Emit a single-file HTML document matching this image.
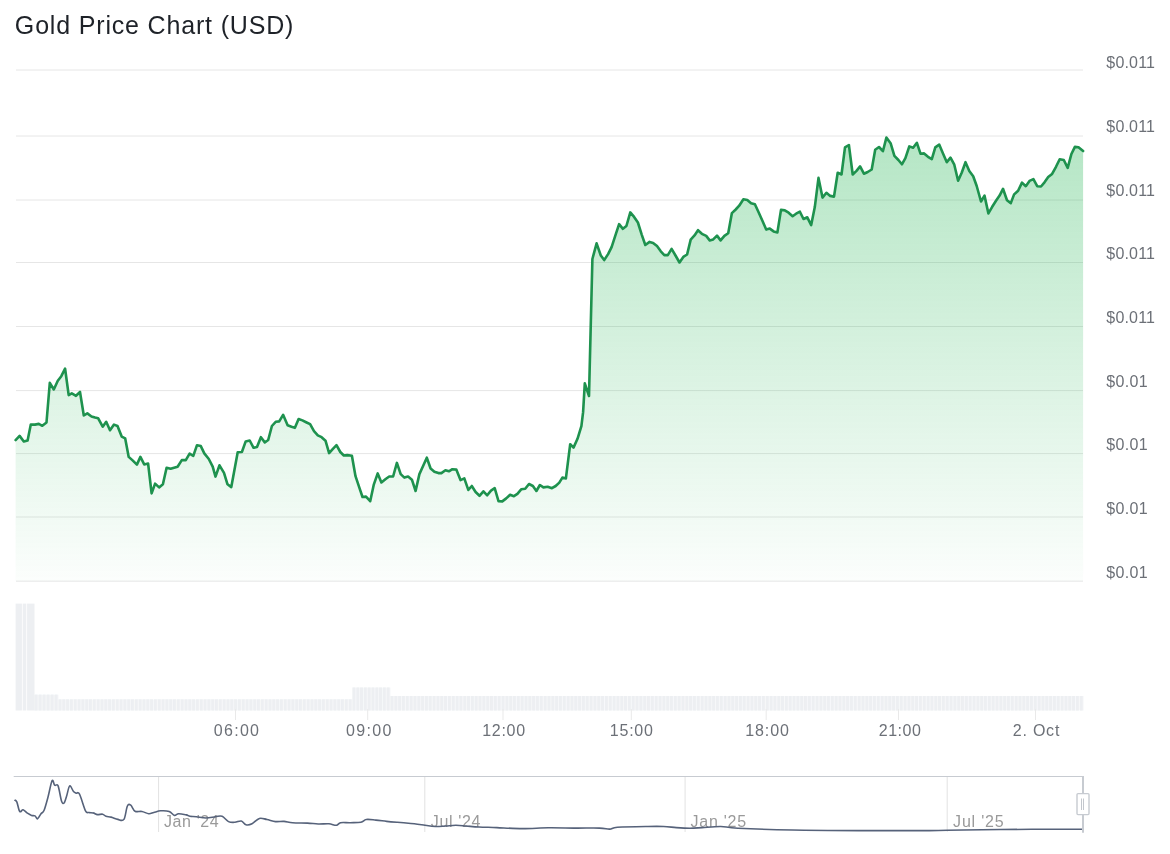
<!DOCTYPE html>
<html><head><meta charset="utf-8"><title>Gold Price Chart (USD)</title>
<style>
html,body{margin:0;padding:0;background:#fff;}
body{width:1170px;height:854px;overflow:hidden;font-family:"Liberation Sans",sans-serif;}
svg{display:block;will-change:transform;}
.title{font-size:25px;fill:#1e2228;}
.grid{stroke:#e6e6e6;stroke-width:1;}
.line{fill:none;stroke:#1e924e;stroke-width:2.6;stroke-linejoin:round;stroke-linecap:round;}
.yl{font-size:16px;fill:#6c7077;}
.xl{font-size:16px;fill:#6c7077;}
.tick{stroke:#e9e9e9;stroke-width:1;}
.ngrid{stroke:#e2e2e2;stroke-width:1;}
.nl{font-size:16px;fill:#9a9a9a;}
.nav{fill:none;stroke:#56627a;stroke-width:1.6;stroke-linejoin:round;}
.nout{fill:none;stroke:#c7cbd1;stroke-width:1;}
.handle{fill:#fff;stroke:#c7cbd1;stroke-width:1.4;}
</style></head>
<body><svg width="1170" height="854" viewBox="0 0 1170 854">
<defs><linearGradient id="g" gradientUnits="userSpaceOnUse" x1="0" y1="137" x2="0" y2="603"><stop offset="0" stop-color="#15b048" stop-opacity="0.318"/><stop offset="1" stop-color="#15b048" stop-opacity="0"/></linearGradient></defs>
<text x="14.86" y="34.00" class="title" textLength="278.56" lengthAdjust="spacing">Gold Price Chart (USD)</text>
<line x1="16" x2="1083" y1="70.00" y2="70.00" class="grid"/>
<line x1="16" x2="1083" y1="136.00" y2="136.00" class="grid"/>
<line x1="16" x2="1083" y1="200.00" y2="200.00" class="grid"/>
<line x1="16" x2="1083" y1="262.50" y2="262.50" class="grid"/>
<line x1="16" x2="1083" y1="326.50" y2="326.50" class="grid"/>
<line x1="16" x2="1083" y1="390.60" y2="390.60" class="grid"/>
<line x1="16" x2="1083" y1="453.60" y2="453.60" class="grid"/>
<line x1="16" x2="1083" y1="517.00" y2="517.00" class="grid"/>
<line x1="16" x2="1083" y1="581.20" y2="581.20" class="grid"/>
<path d="M15.6,440.1 L19.6,435.9 L23.8,441.5 L27.6,440.4 L30.8,424.6 L35,424.6 L38.8,423.9 L42.3,425.8 L46.5,422.5 L49.8,382.8 L53.8,389.5 L57.8,380.8 L61.3,376.2 L65.1,368.7 L68.7,395.1 L71.8,393.4 L76,395.8 L80,392 L83.8,415.5 L87.3,413.4 L91.5,416.5 L95,417.6 L98.2,418.3 L102.7,426.7 L106.2,421.8 L110,430.3 L114,424.6 L117.5,426 L121.7,436.6 L125.2,438.4 L128.7,456.9 L132.6,460.4 L136.9,464.6 L140.4,456.9 L144.2,464.4 L148.1,463.5 L151.6,493.4 L155.1,483.6 L159.1,487.4 L162.9,484.3 L166.6,467.7 L170.6,468.8 L174.1,467.7 L177.6,466.7 L181.8,460.1 L185.8,460.1 L189.6,453.7 L193.3,455.9 L197,445.2 L200.8,446.1 L204.3,453.4 L208.8,459 L212.7,466.7 L215.5,476.6 L219.5,465.3 L224,472.8 L227.5,484.3 L231.3,487.1 L237.7,452.3 L241.9,452 L245.7,441.4 L249.7,440.5 L253.6,447.8 L257,447.1 L260.9,437.2 L264.8,442.4 L268.2,440 L271.9,426 L275.7,421.8 L279.2,421.4 L283.1,414.8 L287.6,425.3 L291.5,426.7 L294.9,427.8 L298.6,419 L302.4,420.4 L306.6,422.5 L310.1,424.2 L314,431.2 L317.8,435.4 L321.6,437.2 L325.5,440.7 L329.1,453.1 L332.9,448.9 L336.5,445.2 L340.3,452 L343.8,455.5 L347.3,455.1 L351.9,455.8 L355.5,476.2 L359,486.7 L362.5,497 L366,496.6 L370.2,501.2 L373.7,484.9 L377.7,473.4 L381.4,482.5 L385.7,479 L389.2,476.5 L393.1,476.5 L396.9,462.9 L400.7,474.1 L404.4,477.6 L408.1,476.5 L411.9,479.7 L415.6,491 L419.4,474.1 L423.2,465.7 L426.8,457.7 L430.6,468.5 L434.4,471.7 L438.4,473.1 L441.4,473.1 L445.4,470.3 L448.9,471.3 L452.4,469.2 L456.3,469.6 L460.5,480.1 L464.3,478.4 L468.3,489.9 L471.8,486 L475.6,492 L479.5,495.8 L483.4,491.3 L487.2,495.3 L491,490.6 L494.7,488.2 L498.5,501.2 L502.3,501.4 L506.2,498.4 L510.1,494.8 L513.9,496.2 L517.4,493.9 L521.4,489.2 L525.2,488.8 L529,484 L532.9,486 L536.4,491 L539.9,485 L543.4,487.4 L547.7,486.8 L551.9,488.2 L555.7,486 L559.3,482.6 L562.4,477.6 L565.9,478.4 L570.2,444.2 L573.5,447.6 L577.5,438.8 L581.4,426.2 L583.1,412.2 L584.8,383.3 L589,396 L592.4,259 L596.6,243.3 L600.8,255.5 L604.2,260.1 L608.1,254.1 L611.6,247.1 L615.4,235.4 L619.1,224.2 L622.9,228.8 L626.4,226 L630.3,212.4 L634.1,216.9 L637.9,222.5 L641.8,234.8 L645.3,245 L649.6,241.9 L653.1,242.9 L657,246.1 L660.8,251.3 L664.3,255.1 L667.8,255.1 L671.6,248.9 L675.5,255.5 L679.5,262.5 L683.3,256.9 L687.1,254.5 L690.7,239.6 L694.5,235.4 L698,230.2 L701.9,233.8 L706.2,235.9 L709.7,240.4 L713.2,239.4 L717,235.6 L720.6,240.4 L724.4,235.9 L728.2,233.3 L731.9,213.1 L735.7,209.5 L739.2,205.7 L743.4,199.3 L747.3,200 L751.1,203.3 L754.9,204.3 L758.6,212.3 L762.4,220.7 L766.2,229.6 L769.8,228.6 L773.6,231.4 L777.4,232.4 L781,209.9 L784.8,210.3 L788.6,212.7 L792.6,216.2 L796.1,213.7 L799.9,211.7 L803.5,219 L807.3,217.3 L811.2,225.1 L814.8,207.1 L818.5,177.9 L822.5,197.6 L826.4,192.8 L830.2,195.9 L834,196.6 L837.7,172.7 L841.5,174.5 L845,147.4 L848.9,145 L852.7,174.5 L856.5,170.9 L860.1,166.4 L863.9,173.7 L867.7,172 L871.7,169.5 L875.2,149.8 L879,147 L882.9,151.2 L886.4,137.6 L890.6,143.2 L894.4,155.8 L898.4,160 L901.9,164.3 L905.4,158.2 L909.3,146.4 L913.1,147.8 L916.9,142.8 L920.5,153.7 L924.1,153.4 L928,156.8 L931.8,159.1 L935.3,147.4 L939.2,144.6 L943,153.4 L946.8,162.2 L950.5,157.7 L954.3,164.7 L958.1,180.7 L961.7,172.7 L965.5,162.2 L969.3,170.9 L973.2,176.2 L976.7,186 L981,201.5 L984.5,195.6 L988.4,213.4 L992.2,206.8 L996,200.8 L999.6,195.6 L1003,188.8 L1007,200.2 L1010.8,203.1 L1014.1,194.4 L1018.1,190.8 L1022,182.6 L1025.8,186.2 L1029.5,180.9 L1033.4,179.1 L1037.2,186.2 L1041,186.5 L1044.5,182.3 L1048.2,177.1 L1052.1,173.9 L1056,166.8 L1059.7,159.2 L1063.8,160 L1067.7,167.8 L1071.4,154 L1074.9,146.9 L1078.5,147.2 L1083.1,151 L1083.1,581.2 L15.6,581.2 Z" fill="url(#g)"/>
<path d="M15.6,440.1 L19.6,435.9 L23.8,441.5 L27.6,440.4 L30.8,424.6 L35,424.6 L38.8,423.9 L42.3,425.8 L46.5,422.5 L49.8,382.8 L53.8,389.5 L57.8,380.8 L61.3,376.2 L65.1,368.7 L68.7,395.1 L71.8,393.4 L76,395.8 L80,392 L83.8,415.5 L87.3,413.4 L91.5,416.5 L95,417.6 L98.2,418.3 L102.7,426.7 L106.2,421.8 L110,430.3 L114,424.6 L117.5,426 L121.7,436.6 L125.2,438.4 L128.7,456.9 L132.6,460.4 L136.9,464.6 L140.4,456.9 L144.2,464.4 L148.1,463.5 L151.6,493.4 L155.1,483.6 L159.1,487.4 L162.9,484.3 L166.6,467.7 L170.6,468.8 L174.1,467.7 L177.6,466.7 L181.8,460.1 L185.8,460.1 L189.6,453.7 L193.3,455.9 L197,445.2 L200.8,446.1 L204.3,453.4 L208.8,459 L212.7,466.7 L215.5,476.6 L219.5,465.3 L224,472.8 L227.5,484.3 L231.3,487.1 L237.7,452.3 L241.9,452 L245.7,441.4 L249.7,440.5 L253.6,447.8 L257,447.1 L260.9,437.2 L264.8,442.4 L268.2,440 L271.9,426 L275.7,421.8 L279.2,421.4 L283.1,414.8 L287.6,425.3 L291.5,426.7 L294.9,427.8 L298.6,419 L302.4,420.4 L306.6,422.5 L310.1,424.2 L314,431.2 L317.8,435.4 L321.6,437.2 L325.5,440.7 L329.1,453.1 L332.9,448.9 L336.5,445.2 L340.3,452 L343.8,455.5 L347.3,455.1 L351.9,455.8 L355.5,476.2 L359,486.7 L362.5,497 L366,496.6 L370.2,501.2 L373.7,484.9 L377.7,473.4 L381.4,482.5 L385.7,479 L389.2,476.5 L393.1,476.5 L396.9,462.9 L400.7,474.1 L404.4,477.6 L408.1,476.5 L411.9,479.7 L415.6,491 L419.4,474.1 L423.2,465.7 L426.8,457.7 L430.6,468.5 L434.4,471.7 L438.4,473.1 L441.4,473.1 L445.4,470.3 L448.9,471.3 L452.4,469.2 L456.3,469.6 L460.5,480.1 L464.3,478.4 L468.3,489.9 L471.8,486 L475.6,492 L479.5,495.8 L483.4,491.3 L487.2,495.3 L491,490.6 L494.7,488.2 L498.5,501.2 L502.3,501.4 L506.2,498.4 L510.1,494.8 L513.9,496.2 L517.4,493.9 L521.4,489.2 L525.2,488.8 L529,484 L532.9,486 L536.4,491 L539.9,485 L543.4,487.4 L547.7,486.8 L551.9,488.2 L555.7,486 L559.3,482.6 L562.4,477.6 L565.9,478.4 L570.2,444.2 L573.5,447.6 L577.5,438.8 L581.4,426.2 L583.1,412.2 L584.8,383.3 L589,396 L592.4,259 L596.6,243.3 L600.8,255.5 L604.2,260.1 L608.1,254.1 L611.6,247.1 L615.4,235.4 L619.1,224.2 L622.9,228.8 L626.4,226 L630.3,212.4 L634.1,216.9 L637.9,222.5 L641.8,234.8 L645.3,245 L649.6,241.9 L653.1,242.9 L657,246.1 L660.8,251.3 L664.3,255.1 L667.8,255.1 L671.6,248.9 L675.5,255.5 L679.5,262.5 L683.3,256.9 L687.1,254.5 L690.7,239.6 L694.5,235.4 L698,230.2 L701.9,233.8 L706.2,235.9 L709.7,240.4 L713.2,239.4 L717,235.6 L720.6,240.4 L724.4,235.9 L728.2,233.3 L731.9,213.1 L735.7,209.5 L739.2,205.7 L743.4,199.3 L747.3,200 L751.1,203.3 L754.9,204.3 L758.6,212.3 L762.4,220.7 L766.2,229.6 L769.8,228.6 L773.6,231.4 L777.4,232.4 L781,209.9 L784.8,210.3 L788.6,212.7 L792.6,216.2 L796.1,213.7 L799.9,211.7 L803.5,219 L807.3,217.3 L811.2,225.1 L814.8,207.1 L818.5,177.9 L822.5,197.6 L826.4,192.8 L830.2,195.9 L834,196.6 L837.7,172.7 L841.5,174.5 L845,147.4 L848.9,145 L852.7,174.5 L856.5,170.9 L860.1,166.4 L863.9,173.7 L867.7,172 L871.7,169.5 L875.2,149.8 L879,147 L882.9,151.2 L886.4,137.6 L890.6,143.2 L894.4,155.8 L898.4,160 L901.9,164.3 L905.4,158.2 L909.3,146.4 L913.1,147.8 L916.9,142.8 L920.5,153.7 L924.1,153.4 L928,156.8 L931.8,159.1 L935.3,147.4 L939.2,144.6 L943,153.4 L946.8,162.2 L950.5,157.7 L954.3,164.7 L958.1,180.7 L961.7,172.7 L965.5,162.2 L969.3,170.9 L973.2,176.2 L976.7,186 L981,201.5 L984.5,195.6 L988.4,213.4 L992.2,206.8 L996,200.8 L999.6,195.6 L1003,188.8 L1007,200.2 L1010.8,203.1 L1014.1,194.4 L1018.1,190.8 L1022,182.6 L1025.8,186.2 L1029.5,180.9 L1033.4,179.1 L1037.2,186.2 L1041,186.5 L1044.5,182.3 L1048.2,177.1 L1052.1,173.9 L1056,166.8 L1059.7,159.2 L1063.8,160 L1067.7,167.8 L1071.4,154 L1074.9,146.9 L1078.5,147.2 L1083.1,151" class="line"/>
<text x="1106.37" y="68.30" class="yl" textLength="48.55" lengthAdjust="spacing">$0.011</text>
<text x="1106.37" y="131.95" class="yl" textLength="48.55" lengthAdjust="spacing">$0.011</text>
<text x="1106.37" y="195.60" class="yl" textLength="48.55" lengthAdjust="spacing">$0.011</text>
<text x="1106.37" y="259.25" class="yl" textLength="48.55" lengthAdjust="spacing">$0.011</text>
<text x="1106.37" y="322.90" class="yl" textLength="48.55" lengthAdjust="spacing">$0.011</text>
<text x="1106.37" y="386.55" class="yl" textLength="41.17" lengthAdjust="spacing">$0.01</text>
<text x="1106.37" y="450.20" class="yl" textLength="41.17" lengthAdjust="spacing">$0.01</text>
<text x="1106.37" y="513.85" class="yl" textLength="41.17" lengthAdjust="spacing">$0.01</text>
<text x="1106.37" y="577.50" class="yl" textLength="41.17" lengthAdjust="spacing">$0.01</text>
<g fill="#f6f7f9"><rect x="34.50" y="694.6" width="4.00" height="15.9"/><rect x="38.50" y="694.6" width="4.00" height="15.9"/><rect x="42.50" y="694.6" width="4.00" height="15.9"/><rect x="46.50" y="694.6" width="4.00" height="15.9"/><rect x="50.50" y="694.6" width="4.00" height="15.9"/><rect x="54.50" y="694.6" width="4.00" height="15.9"/><rect x="58.50" y="699.3" width="3.82" height="11.2"/><rect x="62.32" y="699.3" width="3.82" height="11.2"/><rect x="66.14" y="699.3" width="3.82" height="11.2"/><rect x="69.95" y="699.3" width="3.82" height="11.2"/><rect x="73.77" y="699.3" width="3.82" height="11.2"/><rect x="77.59" y="699.3" width="3.82" height="11.2"/><rect x="81.41" y="699.3" width="3.82" height="11.2"/><rect x="85.23" y="699.3" width="3.82" height="11.2"/><rect x="89.05" y="699.3" width="3.82" height="11.2"/><rect x="92.86" y="699.3" width="3.82" height="11.2"/><rect x="96.68" y="699.3" width="3.82" height="11.2"/><rect x="100.50" y="699.3" width="3.82" height="11.2"/><rect x="104.32" y="699.3" width="3.82" height="11.2"/><rect x="108.14" y="699.3" width="3.82" height="11.2"/><rect x="111.95" y="699.3" width="3.82" height="11.2"/><rect x="115.77" y="699.3" width="3.82" height="11.2"/><rect x="119.59" y="699.3" width="3.82" height="11.2"/><rect x="123.41" y="699.3" width="3.82" height="11.2"/><rect x="127.23" y="699.3" width="3.82" height="11.2"/><rect x="131.05" y="699.3" width="3.82" height="11.2"/><rect x="134.86" y="699.3" width="3.82" height="11.2"/><rect x="138.68" y="699.3" width="3.82" height="11.2"/><rect x="142.50" y="699.3" width="3.82" height="11.2"/><rect x="146.32" y="699.3" width="3.82" height="11.2"/><rect x="150.14" y="699.3" width="3.82" height="11.2"/><rect x="153.95" y="699.3" width="3.82" height="11.2"/><rect x="157.77" y="699.3" width="3.82" height="11.2"/><rect x="161.59" y="699.3" width="3.82" height="11.2"/><rect x="165.41" y="699.3" width="3.82" height="11.2"/><rect x="169.23" y="699.3" width="3.82" height="11.2"/><rect x="173.05" y="699.3" width="3.82" height="11.2"/><rect x="176.86" y="699.3" width="3.82" height="11.2"/><rect x="180.68" y="699.3" width="3.82" height="11.2"/><rect x="184.50" y="699.3" width="3.82" height="11.2"/><rect x="188.32" y="699.3" width="3.82" height="11.2"/><rect x="192.14" y="699.3" width="3.82" height="11.2"/><rect x="195.95" y="699.3" width="3.82" height="11.2"/><rect x="199.77" y="699.3" width="3.82" height="11.2"/><rect x="203.59" y="699.3" width="3.82" height="11.2"/><rect x="207.41" y="699.3" width="3.82" height="11.2"/><rect x="211.23" y="699.3" width="3.82" height="11.2"/><rect x="215.05" y="699.3" width="3.82" height="11.2"/><rect x="218.86" y="699.3" width="3.82" height="11.2"/><rect x="222.68" y="699.3" width="3.82" height="11.2"/><rect x="226.50" y="699.3" width="3.82" height="11.2"/><rect x="230.32" y="699.3" width="3.82" height="11.2"/><rect x="234.14" y="699.3" width="3.82" height="11.2"/><rect x="237.95" y="699.3" width="3.82" height="11.2"/><rect x="241.77" y="699.3" width="3.82" height="11.2"/><rect x="245.59" y="699.3" width="3.82" height="11.2"/><rect x="249.41" y="699.3" width="3.82" height="11.2"/><rect x="253.23" y="699.3" width="3.82" height="11.2"/><rect x="257.05" y="699.3" width="3.82" height="11.2"/><rect x="260.86" y="699.3" width="3.82" height="11.2"/><rect x="264.68" y="699.3" width="3.82" height="11.2"/><rect x="268.50" y="699.3" width="3.82" height="11.2"/><rect x="272.32" y="699.3" width="3.82" height="11.2"/><rect x="276.14" y="699.3" width="3.82" height="11.2"/><rect x="279.95" y="699.3" width="3.82" height="11.2"/><rect x="283.77" y="699.3" width="3.82" height="11.2"/><rect x="287.59" y="699.3" width="3.82" height="11.2"/><rect x="291.41" y="699.3" width="3.82" height="11.2"/><rect x="295.23" y="699.3" width="3.82" height="11.2"/><rect x="299.05" y="699.3" width="3.82" height="11.2"/><rect x="302.86" y="699.3" width="3.82" height="11.2"/><rect x="306.68" y="699.3" width="3.82" height="11.2"/><rect x="310.50" y="699.3" width="3.82" height="11.2"/><rect x="314.32" y="699.3" width="3.82" height="11.2"/><rect x="318.14" y="699.3" width="3.82" height="11.2"/><rect x="321.95" y="699.3" width="3.82" height="11.2"/><rect x="325.77" y="699.3" width="3.82" height="11.2"/><rect x="329.59" y="699.3" width="3.82" height="11.2"/><rect x="333.41" y="699.3" width="3.82" height="11.2"/><rect x="337.23" y="699.3" width="3.82" height="11.2"/><rect x="341.05" y="699.3" width="3.82" height="11.2"/><rect x="344.86" y="699.3" width="3.82" height="11.2"/><rect x="348.68" y="699.3" width="3.82" height="11.2"/><rect x="352.50" y="687.5" width="3.80" height="23.0"/><rect x="356.30" y="687.5" width="3.80" height="23.0"/><rect x="360.10" y="687.5" width="3.80" height="23.0"/><rect x="363.90" y="687.5" width="3.80" height="23.0"/><rect x="367.70" y="687.5" width="3.80" height="23.0"/><rect x="371.50" y="687.5" width="3.80" height="23.0"/><rect x="375.30" y="687.5" width="3.80" height="23.0"/><rect x="379.10" y="687.5" width="3.80" height="23.0"/><rect x="382.90" y="687.5" width="3.80" height="23.0"/><rect x="386.70" y="687.5" width="3.80" height="23.0"/><rect x="390.50" y="696.0" width="3.83" height="14.5"/><rect x="394.33" y="696.0" width="3.83" height="14.5"/><rect x="398.16" y="696.0" width="3.83" height="14.5"/><rect x="401.99" y="696.0" width="3.83" height="14.5"/><rect x="405.82" y="696.0" width="3.83" height="14.5"/><rect x="409.65" y="696.0" width="3.83" height="14.5"/><rect x="413.48" y="696.0" width="3.83" height="14.5"/><rect x="417.30" y="696.0" width="3.83" height="14.5"/><rect x="421.13" y="696.0" width="3.83" height="14.5"/><rect x="424.96" y="696.0" width="3.83" height="14.5"/><rect x="428.79" y="696.0" width="3.83" height="14.5"/><rect x="432.62" y="696.0" width="3.83" height="14.5"/><rect x="436.45" y="696.0" width="3.83" height="14.5"/><rect x="440.28" y="696.0" width="3.83" height="14.5"/><rect x="444.11" y="696.0" width="3.83" height="14.5"/><rect x="447.94" y="696.0" width="3.83" height="14.5"/><rect x="451.77" y="696.0" width="3.83" height="14.5"/><rect x="455.60" y="696.0" width="3.83" height="14.5"/><rect x="459.43" y="696.0" width="3.83" height="14.5"/><rect x="463.26" y="696.0" width="3.83" height="14.5"/><rect x="467.09" y="696.0" width="3.83" height="14.5"/><rect x="470.91" y="696.0" width="3.83" height="14.5"/><rect x="474.74" y="696.0" width="3.83" height="14.5"/><rect x="478.57" y="696.0" width="3.83" height="14.5"/><rect x="482.40" y="696.0" width="3.83" height="14.5"/><rect x="486.23" y="696.0" width="3.83" height="14.5"/><rect x="490.06" y="696.0" width="3.83" height="14.5"/><rect x="493.89" y="696.0" width="3.83" height="14.5"/><rect x="497.72" y="696.0" width="3.83" height="14.5"/><rect x="501.55" y="696.0" width="3.83" height="14.5"/><rect x="505.38" y="696.0" width="3.83" height="14.5"/><rect x="509.21" y="696.0" width="3.83" height="14.5"/><rect x="513.04" y="696.0" width="3.83" height="14.5"/><rect x="516.87" y="696.0" width="3.83" height="14.5"/><rect x="520.70" y="696.0" width="3.83" height="14.5"/><rect x="524.52" y="696.0" width="3.83" height="14.5"/><rect x="528.35" y="696.0" width="3.83" height="14.5"/><rect x="532.18" y="696.0" width="3.83" height="14.5"/><rect x="536.01" y="696.0" width="3.83" height="14.5"/><rect x="539.84" y="696.0" width="3.83" height="14.5"/><rect x="543.67" y="696.0" width="3.83" height="14.5"/><rect x="547.50" y="696.0" width="3.83" height="14.5"/><rect x="551.33" y="696.0" width="3.83" height="14.5"/><rect x="555.16" y="696.0" width="3.83" height="14.5"/><rect x="558.99" y="696.0" width="3.83" height="14.5"/><rect x="562.82" y="696.0" width="3.83" height="14.5"/><rect x="566.65" y="696.0" width="3.83" height="14.5"/><rect x="570.48" y="696.0" width="3.83" height="14.5"/><rect x="574.31" y="696.0" width="3.83" height="14.5"/><rect x="578.13" y="696.0" width="3.83" height="14.5"/><rect x="581.96" y="696.0" width="3.83" height="14.5"/><rect x="585.79" y="696.0" width="3.83" height="14.5"/><rect x="589.62" y="696.0" width="3.83" height="14.5"/><rect x="593.45" y="696.0" width="3.83" height="14.5"/><rect x="597.28" y="696.0" width="3.83" height="14.5"/><rect x="601.11" y="696.0" width="3.83" height="14.5"/><rect x="604.94" y="696.0" width="3.83" height="14.5"/><rect x="608.77" y="696.0" width="3.83" height="14.5"/><rect x="612.60" y="696.0" width="3.83" height="14.5"/><rect x="616.43" y="696.0" width="3.83" height="14.5"/><rect x="620.26" y="696.0" width="3.83" height="14.5"/><rect x="624.09" y="696.0" width="3.83" height="14.5"/><rect x="627.92" y="696.0" width="3.83" height="14.5"/><rect x="631.74" y="696.0" width="3.83" height="14.5"/><rect x="635.57" y="696.0" width="3.83" height="14.5"/><rect x="639.40" y="696.0" width="3.83" height="14.5"/><rect x="643.23" y="696.0" width="3.83" height="14.5"/><rect x="647.06" y="696.0" width="3.83" height="14.5"/><rect x="650.89" y="696.0" width="3.83" height="14.5"/><rect x="654.72" y="696.0" width="3.83" height="14.5"/><rect x="658.55" y="696.0" width="3.83" height="14.5"/><rect x="662.38" y="696.0" width="3.83" height="14.5"/><rect x="666.21" y="696.0" width="3.83" height="14.5"/><rect x="670.04" y="696.0" width="3.83" height="14.5"/><rect x="673.87" y="696.0" width="3.83" height="14.5"/><rect x="677.70" y="696.0" width="3.83" height="14.5"/><rect x="681.53" y="696.0" width="3.83" height="14.5"/><rect x="685.35" y="696.0" width="3.83" height="14.5"/><rect x="689.18" y="696.0" width="3.83" height="14.5"/><rect x="693.01" y="696.0" width="3.83" height="14.5"/><rect x="696.84" y="696.0" width="3.83" height="14.5"/><rect x="700.67" y="696.0" width="3.83" height="14.5"/><rect x="704.50" y="696.0" width="3.83" height="14.5"/><rect x="708.33" y="696.0" width="3.83" height="14.5"/><rect x="712.16" y="696.0" width="3.83" height="14.5"/><rect x="715.99" y="696.0" width="3.83" height="14.5"/><rect x="719.82" y="696.0" width="3.83" height="14.5"/><rect x="723.65" y="696.0" width="3.83" height="14.5"/><rect x="727.48" y="696.0" width="3.83" height="14.5"/><rect x="731.31" y="696.0" width="3.83" height="14.5"/><rect x="735.14" y="696.0" width="3.83" height="14.5"/><rect x="738.96" y="696.0" width="3.83" height="14.5"/><rect x="742.79" y="696.0" width="3.83" height="14.5"/><rect x="746.62" y="696.0" width="3.83" height="14.5"/><rect x="750.45" y="696.0" width="3.83" height="14.5"/><rect x="754.28" y="696.0" width="3.83" height="14.5"/><rect x="758.11" y="696.0" width="3.83" height="14.5"/><rect x="761.94" y="696.0" width="3.83" height="14.5"/><rect x="765.77" y="696.0" width="3.83" height="14.5"/><rect x="769.60" y="696.0" width="3.83" height="14.5"/><rect x="773.43" y="696.0" width="3.83" height="14.5"/><rect x="777.26" y="696.0" width="3.83" height="14.5"/><rect x="781.09" y="696.0" width="3.83" height="14.5"/><rect x="784.92" y="696.0" width="3.83" height="14.5"/><rect x="788.75" y="696.0" width="3.83" height="14.5"/><rect x="792.57" y="696.0" width="3.83" height="14.5"/><rect x="796.40" y="696.0" width="3.83" height="14.5"/><rect x="800.23" y="696.0" width="3.83" height="14.5"/><rect x="804.06" y="696.0" width="3.83" height="14.5"/><rect x="807.89" y="696.0" width="3.83" height="14.5"/><rect x="811.72" y="696.0" width="3.83" height="14.5"/><rect x="815.55" y="696.0" width="3.83" height="14.5"/><rect x="819.38" y="696.0" width="3.83" height="14.5"/><rect x="823.21" y="696.0" width="3.83" height="14.5"/><rect x="827.04" y="696.0" width="3.83" height="14.5"/><rect x="830.87" y="696.0" width="3.83" height="14.5"/><rect x="834.70" y="696.0" width="3.83" height="14.5"/><rect x="838.53" y="696.0" width="3.83" height="14.5"/><rect x="842.36" y="696.0" width="3.83" height="14.5"/><rect x="846.18" y="696.0" width="3.83" height="14.5"/><rect x="850.01" y="696.0" width="3.83" height="14.5"/><rect x="853.84" y="696.0" width="3.83" height="14.5"/><rect x="857.67" y="696.0" width="3.83" height="14.5"/><rect x="861.50" y="696.0" width="3.83" height="14.5"/><rect x="865.33" y="696.0" width="3.83" height="14.5"/><rect x="869.16" y="696.0" width="3.83" height="14.5"/><rect x="872.99" y="696.0" width="3.83" height="14.5"/><rect x="876.82" y="696.0" width="3.83" height="14.5"/><rect x="880.65" y="696.0" width="3.83" height="14.5"/><rect x="884.48" y="696.0" width="3.83" height="14.5"/><rect x="888.31" y="696.0" width="3.83" height="14.5"/><rect x="892.14" y="696.0" width="3.83" height="14.5"/><rect x="895.97" y="696.0" width="3.83" height="14.5"/><rect x="899.79" y="696.0" width="3.83" height="14.5"/><rect x="903.62" y="696.0" width="3.83" height="14.5"/><rect x="907.45" y="696.0" width="3.83" height="14.5"/><rect x="911.28" y="696.0" width="3.83" height="14.5"/><rect x="915.11" y="696.0" width="3.83" height="14.5"/><rect x="918.94" y="696.0" width="3.83" height="14.5"/><rect x="922.77" y="696.0" width="3.83" height="14.5"/><rect x="926.60" y="696.0" width="3.83" height="14.5"/><rect x="930.43" y="696.0" width="3.83" height="14.5"/><rect x="934.26" y="696.0" width="3.83" height="14.5"/><rect x="938.09" y="696.0" width="3.83" height="14.5"/><rect x="941.92" y="696.0" width="3.83" height="14.5"/><rect x="945.75" y="696.0" width="3.83" height="14.5"/><rect x="949.58" y="696.0" width="3.83" height="14.5"/><rect x="953.40" y="696.0" width="3.83" height="14.5"/><rect x="957.23" y="696.0" width="3.83" height="14.5"/><rect x="961.06" y="696.0" width="3.83" height="14.5"/><rect x="964.89" y="696.0" width="3.83" height="14.5"/><rect x="968.72" y="696.0" width="3.83" height="14.5"/><rect x="972.55" y="696.0" width="3.83" height="14.5"/><rect x="976.38" y="696.0" width="3.83" height="14.5"/><rect x="980.21" y="696.0" width="3.83" height="14.5"/><rect x="984.04" y="696.0" width="3.83" height="14.5"/><rect x="987.87" y="696.0" width="3.83" height="14.5"/><rect x="991.70" y="696.0" width="3.83" height="14.5"/><rect x="995.53" y="696.0" width="3.83" height="14.5"/><rect x="999.36" y="696.0" width="3.83" height="14.5"/><rect x="1003.19" y="696.0" width="3.83" height="14.5"/><rect x="1007.01" y="696.0" width="3.83" height="14.5"/><rect x="1010.84" y="696.0" width="3.83" height="14.5"/><rect x="1014.67" y="696.0" width="3.83" height="14.5"/><rect x="1018.50" y="696.0" width="3.83" height="14.5"/><rect x="1022.33" y="696.0" width="3.83" height="14.5"/><rect x="1026.16" y="696.0" width="3.83" height="14.5"/><rect x="1029.99" y="696.0" width="3.83" height="14.5"/><rect x="1033.82" y="696.0" width="3.83" height="14.5"/><rect x="1037.65" y="696.0" width="3.83" height="14.5"/><rect x="1041.48" y="696.0" width="3.83" height="14.5"/><rect x="1045.31" y="696.0" width="3.83" height="14.5"/><rect x="1049.14" y="696.0" width="3.83" height="14.5"/><rect x="1052.97" y="696.0" width="3.83" height="14.5"/><rect x="1056.80" y="696.0" width="3.83" height="14.5"/><rect x="1060.62" y="696.0" width="3.83" height="14.5"/><rect x="1064.45" y="696.0" width="3.83" height="14.5"/><rect x="1068.28" y="696.0" width="3.83" height="14.5"/><rect x="1072.11" y="696.0" width="3.83" height="14.5"/><rect x="1075.94" y="696.0" width="3.83" height="14.5"/><rect x="1079.77" y="696.0" width="3.83" height="14.5"/></g>
<g fill="#edeff2"><rect x="15.60" y="603.6" width="6.30" height="106.9"/><rect x="22.70" y="603.6" width="3.60" height="106.9"/><rect x="27.10" y="603.6" width="7.40" height="106.9"/><rect x="34.50" y="694.6" width="3.05" height="15.9"/><rect x="38.50" y="694.6" width="3.05" height="15.9"/><rect x="42.50" y="694.6" width="3.05" height="15.9"/><rect x="46.50" y="694.6" width="3.05" height="15.9"/><rect x="50.50" y="694.6" width="3.05" height="15.9"/><rect x="54.50" y="694.6" width="3.05" height="15.9"/><rect x="58.50" y="699.3" width="2.87" height="11.2"/><rect x="62.32" y="699.3" width="2.87" height="11.2"/><rect x="66.14" y="699.3" width="2.87" height="11.2"/><rect x="69.95" y="699.3" width="2.87" height="11.2"/><rect x="73.77" y="699.3" width="2.87" height="11.2"/><rect x="77.59" y="699.3" width="2.87" height="11.2"/><rect x="81.41" y="699.3" width="2.87" height="11.2"/><rect x="85.23" y="699.3" width="2.87" height="11.2"/><rect x="89.05" y="699.3" width="2.87" height="11.2"/><rect x="92.86" y="699.3" width="2.87" height="11.2"/><rect x="96.68" y="699.3" width="2.87" height="11.2"/><rect x="100.50" y="699.3" width="2.87" height="11.2"/><rect x="104.32" y="699.3" width="2.87" height="11.2"/><rect x="108.14" y="699.3" width="2.87" height="11.2"/><rect x="111.95" y="699.3" width="2.87" height="11.2"/><rect x="115.77" y="699.3" width="2.87" height="11.2"/><rect x="119.59" y="699.3" width="2.87" height="11.2"/><rect x="123.41" y="699.3" width="2.87" height="11.2"/><rect x="127.23" y="699.3" width="2.87" height="11.2"/><rect x="131.05" y="699.3" width="2.87" height="11.2"/><rect x="134.86" y="699.3" width="2.87" height="11.2"/><rect x="138.68" y="699.3" width="2.87" height="11.2"/><rect x="142.50" y="699.3" width="2.87" height="11.2"/><rect x="146.32" y="699.3" width="2.87" height="11.2"/><rect x="150.14" y="699.3" width="2.87" height="11.2"/><rect x="153.95" y="699.3" width="2.87" height="11.2"/><rect x="157.77" y="699.3" width="2.87" height="11.2"/><rect x="161.59" y="699.3" width="2.87" height="11.2"/><rect x="165.41" y="699.3" width="2.87" height="11.2"/><rect x="169.23" y="699.3" width="2.87" height="11.2"/><rect x="173.05" y="699.3" width="2.87" height="11.2"/><rect x="176.86" y="699.3" width="2.87" height="11.2"/><rect x="180.68" y="699.3" width="2.87" height="11.2"/><rect x="184.50" y="699.3" width="2.87" height="11.2"/><rect x="188.32" y="699.3" width="2.87" height="11.2"/><rect x="192.14" y="699.3" width="2.87" height="11.2"/><rect x="195.95" y="699.3" width="2.87" height="11.2"/><rect x="199.77" y="699.3" width="2.87" height="11.2"/><rect x="203.59" y="699.3" width="2.87" height="11.2"/><rect x="207.41" y="699.3" width="2.87" height="11.2"/><rect x="211.23" y="699.3" width="2.87" height="11.2"/><rect x="215.05" y="699.3" width="2.87" height="11.2"/><rect x="218.86" y="699.3" width="2.87" height="11.2"/><rect x="222.68" y="699.3" width="2.87" height="11.2"/><rect x="226.50" y="699.3" width="2.87" height="11.2"/><rect x="230.32" y="699.3" width="2.87" height="11.2"/><rect x="234.14" y="699.3" width="2.87" height="11.2"/><rect x="237.95" y="699.3" width="2.87" height="11.2"/><rect x="241.77" y="699.3" width="2.87" height="11.2"/><rect x="245.59" y="699.3" width="2.87" height="11.2"/><rect x="249.41" y="699.3" width="2.87" height="11.2"/><rect x="253.23" y="699.3" width="2.87" height="11.2"/><rect x="257.05" y="699.3" width="2.87" height="11.2"/><rect x="260.86" y="699.3" width="2.87" height="11.2"/><rect x="264.68" y="699.3" width="2.87" height="11.2"/><rect x="268.50" y="699.3" width="2.87" height="11.2"/><rect x="272.32" y="699.3" width="2.87" height="11.2"/><rect x="276.14" y="699.3" width="2.87" height="11.2"/><rect x="279.95" y="699.3" width="2.87" height="11.2"/><rect x="283.77" y="699.3" width="2.87" height="11.2"/><rect x="287.59" y="699.3" width="2.87" height="11.2"/><rect x="291.41" y="699.3" width="2.87" height="11.2"/><rect x="295.23" y="699.3" width="2.87" height="11.2"/><rect x="299.05" y="699.3" width="2.87" height="11.2"/><rect x="302.86" y="699.3" width="2.87" height="11.2"/><rect x="306.68" y="699.3" width="2.87" height="11.2"/><rect x="310.50" y="699.3" width="2.87" height="11.2"/><rect x="314.32" y="699.3" width="2.87" height="11.2"/><rect x="318.14" y="699.3" width="2.87" height="11.2"/><rect x="321.95" y="699.3" width="2.87" height="11.2"/><rect x="325.77" y="699.3" width="2.87" height="11.2"/><rect x="329.59" y="699.3" width="2.87" height="11.2"/><rect x="333.41" y="699.3" width="2.87" height="11.2"/><rect x="337.23" y="699.3" width="2.87" height="11.2"/><rect x="341.05" y="699.3" width="2.87" height="11.2"/><rect x="344.86" y="699.3" width="2.87" height="11.2"/><rect x="348.68" y="699.3" width="2.87" height="11.2"/><rect x="352.50" y="687.5" width="2.85" height="23.0"/><rect x="356.30" y="687.5" width="2.85" height="23.0"/><rect x="360.10" y="687.5" width="2.85" height="23.0"/><rect x="363.90" y="687.5" width="2.85" height="23.0"/><rect x="367.70" y="687.5" width="2.85" height="23.0"/><rect x="371.50" y="687.5" width="2.85" height="23.0"/><rect x="375.30" y="687.5" width="2.85" height="23.0"/><rect x="379.10" y="687.5" width="2.85" height="23.0"/><rect x="382.90" y="687.5" width="2.85" height="23.0"/><rect x="386.70" y="687.5" width="2.85" height="23.0"/><rect x="390.50" y="696.0" width="2.88" height="14.5"/><rect x="394.33" y="696.0" width="2.88" height="14.5"/><rect x="398.16" y="696.0" width="2.88" height="14.5"/><rect x="401.99" y="696.0" width="2.88" height="14.5"/><rect x="405.82" y="696.0" width="2.88" height="14.5"/><rect x="409.65" y="696.0" width="2.88" height="14.5"/><rect x="413.48" y="696.0" width="2.88" height="14.5"/><rect x="417.30" y="696.0" width="2.88" height="14.5"/><rect x="421.13" y="696.0" width="2.88" height="14.5"/><rect x="424.96" y="696.0" width="2.88" height="14.5"/><rect x="428.79" y="696.0" width="2.88" height="14.5"/><rect x="432.62" y="696.0" width="2.88" height="14.5"/><rect x="436.45" y="696.0" width="2.88" height="14.5"/><rect x="440.28" y="696.0" width="2.88" height="14.5"/><rect x="444.11" y="696.0" width="2.88" height="14.5"/><rect x="447.94" y="696.0" width="2.88" height="14.5"/><rect x="451.77" y="696.0" width="2.88" height="14.5"/><rect x="455.60" y="696.0" width="2.88" height="14.5"/><rect x="459.43" y="696.0" width="2.88" height="14.5"/><rect x="463.26" y="696.0" width="2.88" height="14.5"/><rect x="467.09" y="696.0" width="2.88" height="14.5"/><rect x="470.91" y="696.0" width="2.88" height="14.5"/><rect x="474.74" y="696.0" width="2.88" height="14.5"/><rect x="478.57" y="696.0" width="2.88" height="14.5"/><rect x="482.40" y="696.0" width="2.88" height="14.5"/><rect x="486.23" y="696.0" width="2.88" height="14.5"/><rect x="490.06" y="696.0" width="2.88" height="14.5"/><rect x="493.89" y="696.0" width="2.88" height="14.5"/><rect x="497.72" y="696.0" width="2.88" height="14.5"/><rect x="501.55" y="696.0" width="2.88" height="14.5"/><rect x="505.38" y="696.0" width="2.88" height="14.5"/><rect x="509.21" y="696.0" width="2.88" height="14.5"/><rect x="513.04" y="696.0" width="2.88" height="14.5"/><rect x="516.87" y="696.0" width="2.88" height="14.5"/><rect x="520.70" y="696.0" width="2.88" height="14.5"/><rect x="524.52" y="696.0" width="2.88" height="14.5"/><rect x="528.35" y="696.0" width="2.88" height="14.5"/><rect x="532.18" y="696.0" width="2.88" height="14.5"/><rect x="536.01" y="696.0" width="2.88" height="14.5"/><rect x="539.84" y="696.0" width="2.88" height="14.5"/><rect x="543.67" y="696.0" width="2.88" height="14.5"/><rect x="547.50" y="696.0" width="2.88" height="14.5"/><rect x="551.33" y="696.0" width="2.88" height="14.5"/><rect x="555.16" y="696.0" width="2.88" height="14.5"/><rect x="558.99" y="696.0" width="2.88" height="14.5"/><rect x="562.82" y="696.0" width="2.88" height="14.5"/><rect x="566.65" y="696.0" width="2.88" height="14.5"/><rect x="570.48" y="696.0" width="2.88" height="14.5"/><rect x="574.31" y="696.0" width="2.88" height="14.5"/><rect x="578.13" y="696.0" width="2.88" height="14.5"/><rect x="581.96" y="696.0" width="2.88" height="14.5"/><rect x="585.79" y="696.0" width="2.88" height="14.5"/><rect x="589.62" y="696.0" width="2.88" height="14.5"/><rect x="593.45" y="696.0" width="2.88" height="14.5"/><rect x="597.28" y="696.0" width="2.88" height="14.5"/><rect x="601.11" y="696.0" width="2.88" height="14.5"/><rect x="604.94" y="696.0" width="2.88" height="14.5"/><rect x="608.77" y="696.0" width="2.88" height="14.5"/><rect x="612.60" y="696.0" width="2.88" height="14.5"/><rect x="616.43" y="696.0" width="2.88" height="14.5"/><rect x="620.26" y="696.0" width="2.88" height="14.5"/><rect x="624.09" y="696.0" width="2.88" height="14.5"/><rect x="627.92" y="696.0" width="2.88" height="14.5"/><rect x="631.74" y="696.0" width="2.88" height="14.5"/><rect x="635.57" y="696.0" width="2.88" height="14.5"/><rect x="639.40" y="696.0" width="2.88" height="14.5"/><rect x="643.23" y="696.0" width="2.88" height="14.5"/><rect x="647.06" y="696.0" width="2.88" height="14.5"/><rect x="650.89" y="696.0" width="2.88" height="14.5"/><rect x="654.72" y="696.0" width="2.88" height="14.5"/><rect x="658.55" y="696.0" width="2.88" height="14.5"/><rect x="662.38" y="696.0" width="2.88" height="14.5"/><rect x="666.21" y="696.0" width="2.88" height="14.5"/><rect x="670.04" y="696.0" width="2.88" height="14.5"/><rect x="673.87" y="696.0" width="2.88" height="14.5"/><rect x="677.70" y="696.0" width="2.88" height="14.5"/><rect x="681.53" y="696.0" width="2.88" height="14.5"/><rect x="685.35" y="696.0" width="2.88" height="14.5"/><rect x="689.18" y="696.0" width="2.88" height="14.5"/><rect x="693.01" y="696.0" width="2.88" height="14.5"/><rect x="696.84" y="696.0" width="2.88" height="14.5"/><rect x="700.67" y="696.0" width="2.88" height="14.5"/><rect x="704.50" y="696.0" width="2.88" height="14.5"/><rect x="708.33" y="696.0" width="2.88" height="14.5"/><rect x="712.16" y="696.0" width="2.88" height="14.5"/><rect x="715.99" y="696.0" width="2.88" height="14.5"/><rect x="719.82" y="696.0" width="2.88" height="14.5"/><rect x="723.65" y="696.0" width="2.88" height="14.5"/><rect x="727.48" y="696.0" width="2.88" height="14.5"/><rect x="731.31" y="696.0" width="2.88" height="14.5"/><rect x="735.14" y="696.0" width="2.88" height="14.5"/><rect x="738.96" y="696.0" width="2.88" height="14.5"/><rect x="742.79" y="696.0" width="2.88" height="14.5"/><rect x="746.62" y="696.0" width="2.88" height="14.5"/><rect x="750.45" y="696.0" width="2.88" height="14.5"/><rect x="754.28" y="696.0" width="2.88" height="14.5"/><rect x="758.11" y="696.0" width="2.88" height="14.5"/><rect x="761.94" y="696.0" width="2.88" height="14.5"/><rect x="765.77" y="696.0" width="2.88" height="14.5"/><rect x="769.60" y="696.0" width="2.88" height="14.5"/><rect x="773.43" y="696.0" width="2.88" height="14.5"/><rect x="777.26" y="696.0" width="2.88" height="14.5"/><rect x="781.09" y="696.0" width="2.88" height="14.5"/><rect x="784.92" y="696.0" width="2.88" height="14.5"/><rect x="788.75" y="696.0" width="2.88" height="14.5"/><rect x="792.57" y="696.0" width="2.88" height="14.5"/><rect x="796.40" y="696.0" width="2.88" height="14.5"/><rect x="800.23" y="696.0" width="2.88" height="14.5"/><rect x="804.06" y="696.0" width="2.88" height="14.5"/><rect x="807.89" y="696.0" width="2.88" height="14.5"/><rect x="811.72" y="696.0" width="2.88" height="14.5"/><rect x="815.55" y="696.0" width="2.88" height="14.5"/><rect x="819.38" y="696.0" width="2.88" height="14.5"/><rect x="823.21" y="696.0" width="2.88" height="14.5"/><rect x="827.04" y="696.0" width="2.88" height="14.5"/><rect x="830.87" y="696.0" width="2.88" height="14.5"/><rect x="834.70" y="696.0" width="2.88" height="14.5"/><rect x="838.53" y="696.0" width="2.88" height="14.5"/><rect x="842.36" y="696.0" width="2.88" height="14.5"/><rect x="846.18" y="696.0" width="2.88" height="14.5"/><rect x="850.01" y="696.0" width="2.88" height="14.5"/><rect x="853.84" y="696.0" width="2.88" height="14.5"/><rect x="857.67" y="696.0" width="2.88" height="14.5"/><rect x="861.50" y="696.0" width="2.88" height="14.5"/><rect x="865.33" y="696.0" width="2.88" height="14.5"/><rect x="869.16" y="696.0" width="2.88" height="14.5"/><rect x="872.99" y="696.0" width="2.88" height="14.5"/><rect x="876.82" y="696.0" width="2.88" height="14.5"/><rect x="880.65" y="696.0" width="2.88" height="14.5"/><rect x="884.48" y="696.0" width="2.88" height="14.5"/><rect x="888.31" y="696.0" width="2.88" height="14.5"/><rect x="892.14" y="696.0" width="2.88" height="14.5"/><rect x="895.97" y="696.0" width="2.88" height="14.5"/><rect x="899.79" y="696.0" width="2.88" height="14.5"/><rect x="903.62" y="696.0" width="2.88" height="14.5"/><rect x="907.45" y="696.0" width="2.88" height="14.5"/><rect x="911.28" y="696.0" width="2.88" height="14.5"/><rect x="915.11" y="696.0" width="2.88" height="14.5"/><rect x="918.94" y="696.0" width="2.88" height="14.5"/><rect x="922.77" y="696.0" width="2.88" height="14.5"/><rect x="926.60" y="696.0" width="2.88" height="14.5"/><rect x="930.43" y="696.0" width="2.88" height="14.5"/><rect x="934.26" y="696.0" width="2.88" height="14.5"/><rect x="938.09" y="696.0" width="2.88" height="14.5"/><rect x="941.92" y="696.0" width="2.88" height="14.5"/><rect x="945.75" y="696.0" width="2.88" height="14.5"/><rect x="949.58" y="696.0" width="2.88" height="14.5"/><rect x="953.40" y="696.0" width="2.88" height="14.5"/><rect x="957.23" y="696.0" width="2.88" height="14.5"/><rect x="961.06" y="696.0" width="2.88" height="14.5"/><rect x="964.89" y="696.0" width="2.88" height="14.5"/><rect x="968.72" y="696.0" width="2.88" height="14.5"/><rect x="972.55" y="696.0" width="2.88" height="14.5"/><rect x="976.38" y="696.0" width="2.88" height="14.5"/><rect x="980.21" y="696.0" width="2.88" height="14.5"/><rect x="984.04" y="696.0" width="2.88" height="14.5"/><rect x="987.87" y="696.0" width="2.88" height="14.5"/><rect x="991.70" y="696.0" width="2.88" height="14.5"/><rect x="995.53" y="696.0" width="2.88" height="14.5"/><rect x="999.36" y="696.0" width="2.88" height="14.5"/><rect x="1003.19" y="696.0" width="2.88" height="14.5"/><rect x="1007.01" y="696.0" width="2.88" height="14.5"/><rect x="1010.84" y="696.0" width="2.88" height="14.5"/><rect x="1014.67" y="696.0" width="2.88" height="14.5"/><rect x="1018.50" y="696.0" width="2.88" height="14.5"/><rect x="1022.33" y="696.0" width="2.88" height="14.5"/><rect x="1026.16" y="696.0" width="2.88" height="14.5"/><rect x="1029.99" y="696.0" width="2.88" height="14.5"/><rect x="1033.82" y="696.0" width="2.88" height="14.5"/><rect x="1037.65" y="696.0" width="2.88" height="14.5"/><rect x="1041.48" y="696.0" width="2.88" height="14.5"/><rect x="1045.31" y="696.0" width="2.88" height="14.5"/><rect x="1049.14" y="696.0" width="2.88" height="14.5"/><rect x="1052.97" y="696.0" width="2.88" height="14.5"/><rect x="1056.80" y="696.0" width="2.88" height="14.5"/><rect x="1060.62" y="696.0" width="2.88" height="14.5"/><rect x="1064.45" y="696.0" width="2.88" height="14.5"/><rect x="1068.28" y="696.0" width="2.88" height="14.5"/><rect x="1072.11" y="696.0" width="2.88" height="14.5"/><rect x="1075.94" y="696.0" width="2.88" height="14.5"/><rect x="1079.77" y="696.0" width="2.88" height="14.5"/></g>
<line x1="235.5" x2="235.5" y1="709" y2="720" class="tick"/>
<text x="213.73" y="735.80" class="xl" textLength="45.29" lengthAdjust="spacing">06:00</text>
<line x1="367.7" x2="367.7" y1="709" y2="720" class="tick"/>
<text x="345.90" y="735.80" class="xl" textLength="45.48" lengthAdjust="spacing">09:00</text>
<line x1="503" x2="503" y1="709" y2="720" class="tick"/>
<text x="482.28" y="735.80" class="xl" textLength="42.79" lengthAdjust="spacing">12:00</text>
<line x1="631.3" x2="631.3" y1="709" y2="720" class="tick"/>
<text x="609.79" y="735.80" class="xl" textLength="43.17" lengthAdjust="spacing">15:00</text>
<line x1="766.2" x2="766.2" y1="709" y2="720" class="tick"/>
<text x="745.22" y="735.80" class="xl" textLength="43.65" lengthAdjust="spacing">18:00</text>
<line x1="898.5" x2="898.5" y1="709" y2="720" class="tick"/>
<text x="878.79" y="735.80" class="xl" textLength="42.02" lengthAdjust="spacing">21:00</text>
<line x1="1035.5" x2="1035.5" y1="709" y2="720" class="tick"/>
<text x="1012.79" y="735.80" class="xl" textLength="46.55" lengthAdjust="spacing">2. Oct</text>
<line x1="158.6" x2="158.6" y1="776.5" y2="832" class="ngrid"/>
<line x1="424.8" x2="424.8" y1="776.5" y2="832" class="ngrid"/>
<line x1="685.1" x2="685.1" y1="776.5" y2="832" class="ngrid"/>
<line x1="947.2" x2="947.2" y1="776.5" y2="832" class="ngrid"/>
<text x="164.00" y="826.70" class="nl" textLength="54.74" lengthAdjust="spacing">Jan '24</text>
<text x="430.83" y="826.70" class="nl" textLength="49.63" lengthAdjust="spacing">Jul '24</text>
<text x="690.50" y="826.70" class="nl" textLength="55.57" lengthAdjust="spacing">Jan '25</text>
<text x="953.09" y="826.70" class="nl" textLength="50.60" lengthAdjust="spacing">Jul '25</text>
<path d="M14.5,800 C14.9,800.3 15.9,799.9 16.8,801.8 C17.7,803.7 18.6,810.2 19.7,811.5 C20.8,812.8 21.8,809.5 23.1,809.8 C24.4,810.1 26,812.3 27.4,813.2 C28.8,814.1 30.3,815 31.6,815.4 C32.9,815.8 34,815.3 35,815.9 C36,816.5 36.6,819.2 37.6,818.8 C38.6,818.4 39.9,815.1 41,813.7 C42.1,812.3 43,813 44.1,810.3 C45.2,807.6 46.6,802.4 47.9,797.5 C49.2,792.6 51,782.8 52.1,780.7 C53.2,778.7 53.7,784.3 54.7,785.2 C55.7,786.1 57,783.3 58.1,785.9 C59.2,788.5 60.5,798 61.5,800.9 C62.5,803.8 63.2,803.9 64.1,803 C65,802.1 65.8,798.6 66.7,795.8 C67.6,792.9 68.6,786.6 69.7,785.9 C70.8,785.2 72.4,790.3 73.5,791.5 C74.6,792.7 75.1,792.8 76.1,793.2 C77.1,793.6 77.9,791.2 79.5,794.1 C81.1,797 83.9,807.7 85.5,810.8 C87.1,813.9 87.6,812.1 88.9,812.5 C90.2,812.9 91.8,812.5 93.2,812.9 C94.6,813.2 95.8,814.4 97.4,814.6 C99,814.8 101.2,813.9 102.6,814.2 C104,814.5 104.6,815.8 106,816.3 C107.4,816.8 109.1,816.6 111.1,817.1 C113.1,817.6 115.8,819 117.9,819.4 C120,819.8 122.3,821.6 123.9,819.4 C125.5,817.2 126.2,808.4 127.4,806 C128.6,803.6 129.5,804.3 130.8,805.2 C132.1,806.1 133.2,810.2 135,811.2 C136.8,812.2 139.6,811.1 141.9,811.5 C144.2,811.9 146.7,813.5 148.7,813.7 C150.7,813.9 151.8,813 153.8,812.5 C155.8,812 158.1,811 160.7,810.8 C163.3,810.6 166.9,810.7 169.2,811.5 C171.5,812.3 172.8,815 174.4,815.4 C176,815.8 176.6,813.8 178.6,813.7 C180.6,813.6 184.4,814.5 186.3,814.9 C188.2,815.3 188.3,816 190,816.3 C191.7,816.6 193.7,816.4 196.4,816.7 C199.1,817 202.8,818 206,818 C209.2,818 212.9,817 215.6,816.7 C218.3,816.4 219.9,815.5 222.1,816.3 C224.2,817.1 226.4,820.6 228.5,821.6 C230.6,822.6 232.8,822.4 234.9,822.3 C237,822.2 239.5,820.6 241.3,821 C243.2,821.4 244.2,824.3 246,824.8 C247.8,825.3 249.8,824.9 252,823.8 C254.2,822.7 256.9,819.1 259.4,818.4 C261.9,817.7 264.2,819 266.9,819.5 C269.6,820 272.6,821.3 275.5,821.6 C278.4,821.9 281.1,821.2 284,821.4 C286.9,821.6 288.7,822.4 292.6,822.7 C296.5,823 303.2,822.9 307.5,823.1 C311.8,823.3 314.6,823.9 318.2,824 C321.8,824.1 325.9,823.6 328.9,823.8 C331.9,824 334.4,825.5 336.4,825.3 C338.3,825.1 338.3,823.1 340.6,822.7 C342.9,822.3 346.9,822.8 350.3,822.7 C353.7,822.6 358.2,822.8 360.9,822.3 C363.6,821.8 363.8,819.9 366.3,819.5 C368.8,819.1 372.5,819.8 375.9,820.1 C379.3,820.4 383,821 386.6,821.4 C390.2,821.8 394.5,822.1 397.3,822.3 C400.1,822.5 400.9,822.5 403.7,822.7 C406.5,823 410.8,823.4 414.4,823.8 C417.9,824.2 421.5,824.8 425,825.3 C428.5,825.8 432,826.4 435.4,826.5 C438.8,826.6 442.2,826.2 445.6,826 C449,825.8 452.5,825.3 455.9,825.3 C459.3,825.3 462.3,825.7 466.2,826 C470.1,826.3 473.9,826.7 479,827 C484.1,827.3 489.6,827.3 496.9,827.6 C504.2,827.9 514,828.6 522.6,828.6 C531.2,828.6 539.7,827.9 548.2,827.8 C556.7,827.7 565.2,828 573.8,828.1 C582.3,828.2 593.5,827.9 599.5,828.1 C605.5,828.3 606.7,829.2 609.7,829.1 C612.7,829 611.4,827.7 617.4,827.3 C623.4,826.9 637.9,826.6 645.6,826.5 C653.3,826.4 658.5,826.3 663.6,826.5 C668.7,826.7 672,827.3 676.4,827.6 C680.8,827.9 685.7,828.2 690,828.2 C694.3,828.2 696.9,827.9 702,827.6 C707.1,827.3 714.8,826.4 720.8,826.5 C726.8,826.6 725.9,827.6 737.9,828.2 C749.9,828.8 772.1,829.6 792.6,830 C813.1,830.4 838.2,830.5 861,830.6 C883.8,830.7 912.2,830.7 929.3,830.6 C946.4,830.5 946.4,830.2 963.5,830 C980.6,829.8 1012.2,829.4 1031.9,829.3 C1051.7,829.2 1073.7,829.3 1082,829.3" class="nav"/>
<path d="M13.7,776.5 H1083" class="nout"/>
<path d="M1083,776 V832.8" stroke="#c7cbd1" stroke-width="2" fill="none"/>
<rect x="1077" y="793.6" width="12" height="21" rx="1" class="handle"/>
<path d="M1081.5,798.5 V810 M1083.5,798.5 V810" stroke="#c3c7cd" stroke-width="1" fill="none"/>
</svg></body></html>
